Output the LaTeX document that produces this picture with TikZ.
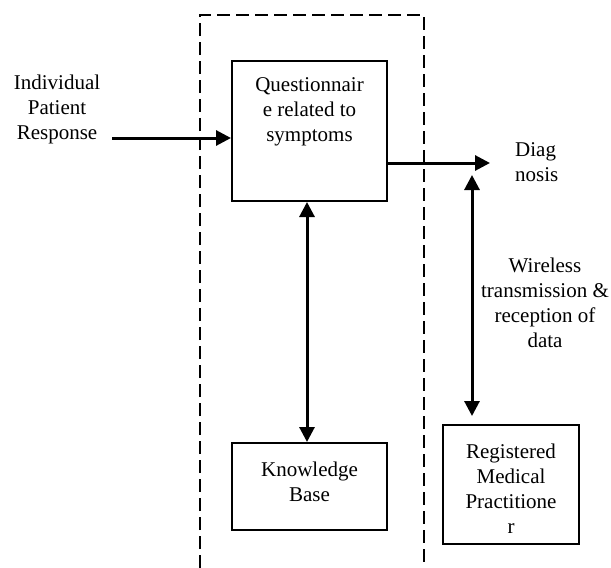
\documentclass[tikz,border=0pt]{standalone}
\usepackage{fontspec}
\setmainfont{Liberation Serif}
\usetikzlibrary{arrows.meta}
\tikzset{
  boxnode/.style={draw, line width=2pt, inner sep=0pt},
  txt/.style={align=center, inner sep=0pt, font=\fontsize{21}{25}\selectfont},
  tip/.style={Triangle[length=15pt,width=15pt]},
  conn/.style={line width=3pt, -{Triangle[length=15pt,width=15pt]}},
  dconn/.style={line width=3pt, {Triangle[length=15pt,width=15pt]}-{Triangle[length=15pt,width=15pt]}},
  dashbox/.style={line width=2pt, dash pattern=on 13pt off 6pt}
}
\begin{document}
\begin{tikzpicture}[x=1pt,y=-1pt]
\useasboundingbox (0,0) rectangle (611,568);
% dashed frame
\draw[dashbox] (200,568) -- (200,15) -- (424,15) -- (424,568);
% boxes
\node[boxnode, minimum width=155pt, minimum height=140pt] (q) at (309.5,131) {};
\node[boxnode, minimum width=155pt, minimum height=87pt] (kb) at (309.5,486.5) {};
\node[boxnode, minimum width=136pt, minimum height=119pt] (rmp) at (511,484.5) {};
% texts
\node[txt] (qt) at (309.5,112) {Questionnair\\e related to\\symptoms};
\node[txt] (kbt) at (309.5,482) {Knowledge\\Base};
\node[txt] (rmpt) at (511,488.5) {Registered\\Medical\\Practitione\\r};
\node[txt] (patient) at (57,109) {Individual\\Patient\\Response};
\node[txt, align=left, anchor=west] (diag) at (515,162.5) {Diag\\nosis};
\node[txt] (wireless) at (545,302.5) {Wireless\\transmission \&\\reception of\\data};
% coordinates
\coordinate (inStart) at (112,138);
\coordinate (outEnd) at (490,163);
\coordinate (wTop) at (472,175);
\coordinate (wBot) at (472,416);
% connectors
\draw[conn] (inStart) -- (inStart -| q.west);
\draw[conn] (q.east |- outEnd) -- (outEnd);
\draw[dconn] (q.south -| 307,0) -- (kb.north -| 307,0);
\draw[dconn] (wTop) -- (wBot);
\end{tikzpicture}
\end{document}
